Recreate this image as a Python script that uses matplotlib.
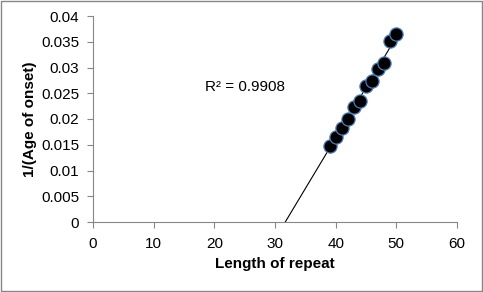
import matplotlib
matplotlib.use("Agg")
import matplotlib.pyplot as plt
from matplotlib.patches import Rectangle
import numpy as np

repeat_length = [39, 40, 41, 42, 43, 44, 45, 46, 47, 48, 49, 50]
inv_onset = [0.0148, 0.0166, 0.0183, 0.0200, 0.0223, 0.0234,
             0.0265, 0.0274, 0.0298, 0.0308, 0.0351, 0.0366]
r2_label = "R² = 0.9908"

plt.rcParams["font.family"] = ["Liberation Sans", "DejaVu Sans"]

fig = plt.figure(figsize=(4.83, 2.92), dpi=100)
ax = fig.add_axes([93 / 483, 70 / 292, 364 / 483, 206 / 292])

# linear trendline, extended back to y = 0
slope, intercept = np.polyfit(repeat_length, inv_onset, 1)
x0 = -intercept / slope
x_line = np.array([x0, max(repeat_length)])
ax.plot(x_line, slope * x_line + intercept, color="black", linewidth=0.8, zorder=2)

ax.plot(repeat_length, inv_onset, "o", markersize=9.5, markerfacecolor="black",
        markeredgecolor="#4a7ebb", markeredgewidth=0.9, zorder=3)

ax.text(18.5, 0.0262, r2_label, fontsize=11, va="center", ha="left")

ax.set_xlim(0, 60)
ax.set_ylim(0, 0.04)
ax.set_xticks(range(0, 61, 10))
ax.set_yticks(np.arange(0, 0.0401, 0.005))
ax.set_yticklabels(["0", "0.005", "0.01", "0.015", "0.02", "0.025", "0.03", "0.035", "0.04"])
ax.tick_params(labelsize=11, length=4, color="#868686", width=0.8)
ax.tick_params(axis="y", pad=6)
ax.tick_params(axis="x", pad=7)
ax.set_xlabel("Length of repeat", fontsize=11, fontweight="bold", labelpad=4)
ax.set_ylabel("1/(Age of onset)", fontsize=11, fontweight="bold", labelpad=3)
for side in ("top", "right"):
    ax.spines[side].set_visible(False)
for side in ("left", "bottom"):
    ax.spines[side].set_color("#868686")
    ax.spines[side].set_linewidth(0.8)

fig.patches.append(Rectangle((0.002, 0.003), 0.996, 0.994, transform=fig.transFigure,
                             fill=False, edgecolor="#868686", linewidth=1))

fig.savefig("out.png", dpi=100)
